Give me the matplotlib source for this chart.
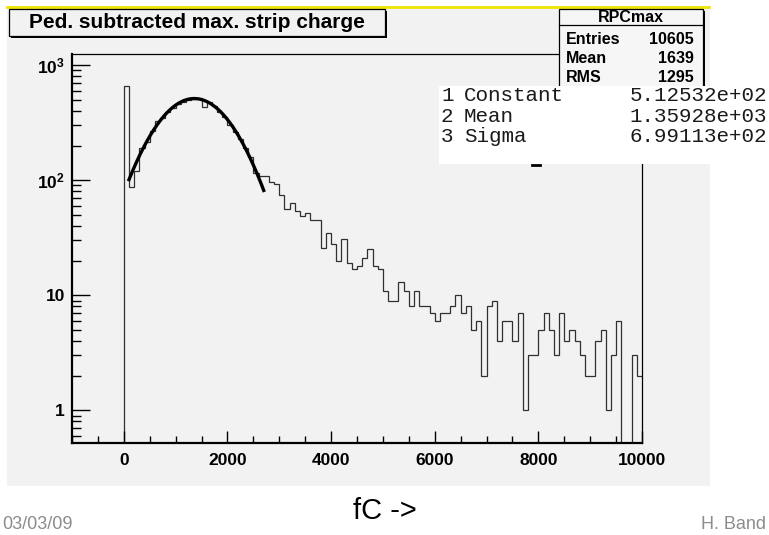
import numpy as np
import matplotlib
matplotlib.use('Agg')
from matplotlib import pyplot as plt
from matplotlib.patches import Rectangle
from matplotlib.lines import Line2D
from matplotlib.ticker import FixedLocator, MultipleLocator, LogLocator, NullFormatter

plt.rcParams['font.family'] = ['Liberation Sans', 'DejaVu Sans']
plt.rcParams['mathtext.fontset'] = 'custom'
plt.rcParams['mathtext.bf'] = 'Liberation Sans:bold'
plt.rcParams['mathtext.rm'] = 'Liberation Sans:bold'

# histogram RPCmax: bins of 100 fC, axis from -1000 to 10000
x_min = -1000
x_max = 10000
bin_width = 100
empty_below_zero = [0] * 10
counts = [656, 88, 120, 190, 215, 270, 330, 345, 395, 420,
          455, 480, 500, 505, 520, 430, 475, 440, 395, 355,
          300, 265, 228, 190, 160, 116, 108, 108, 97, 93,
          74, 56, 63, 54, 49, 52, 45, 45, 26, 35,
          28, 20, 31, 19, 17, 18, 21, 25, 18, 17,
          11, 9, 9, 13, 11, 8, 11, 8, 8, 7,
          6, 7, 7, 8, 10, 7, 8, 5, 6, 2,
          8, 9, 4, 6, 6, 4, 7, 1, 3, 3,
          5, 7, 5, 3, 7, 4, 5, 4, 3, 2,
          2, 4, 5, 1, 3, 6, 0, 0, 3, 2]

# gaus fit
fit_const = 512.532
fit_mean = 1359.28
fit_sigma = 699.113
fit_lo, fit_hi = 100, 2700

hist_name = 'RPCmax'
stats_names = ['Entries', 'Mean', 'RMS']
stats_values = ['10605', '1639', '1295']
par_names = ['Constant', 'Mean', 'Sigma']
par_values = ['5.12532e+02', '1.35928e+03', '6.99113e+02']

x_ticks = [0, 2000, 4000, 6000, 8000, 10000]
x_ticklabels = ['0', '2000', '4000', '6000', '8000', '10000']
y_ticks = [1, 10, 100, 1000]
y_ticklabels = ['1', '10', r'$\mathbf{10^{2}}$', r'$\mathbf{10^{3}}$']

W, H = 769, 535
def fx(px):
    return px / W
def fy(py):
    return 1 - py / H

fig = plt.figure(figsize=(7.69, 5.35), dpi=100)
fig.patch.set_facecolor('white')
gray = '#f2f2f2'

# canvas background + yellow slide line
fig.patches.append(Rectangle((fx(7), fy(486)), (710 - 7) / W, (486 - 8) / H,
                             transform=fig.transFigure, facecolor=gray,
                             edgecolor='none', zorder=-5))
fig.lines.append(Line2D([fx(7), fx(709)], [fy(7), fy(7)], transform=fig.transFigure,
                        color='#f0e400', lw=2, zorder=-4))

ax = fig.add_axes([fx(72), fy(443), (642 - 72) / W, (443 - 54) / H])
ax.set_facecolor(gray)

all_counts = np.array(empty_below_zero + counts, dtype=float)
edges = x_min + bin_width * np.arange(len(all_counts) + 1)
ax.stairs(np.where(all_counts > 0, all_counts, 1e-3), edges, baseline=None,
          color='#303030', lw=0.9)

xs = np.linspace(fit_lo, fit_hi, 400)
ax.plot(xs, fit_const * np.exp(-0.5 * ((xs - fit_mean) / fit_sigma) ** 2),
        color='black', lw=2.4)

ax.set_yscale('log')
ax.set_xlim(x_min, x_max)
ax.set_ylim(0.52, 1250)

ax.xaxis.set_major_locator(FixedLocator(x_ticks))
ax.xaxis.set_minor_locator(MultipleLocator(500))
ax.set_xticklabels(x_ticklabels, fontweight='bold', fontsize=12.5)
ax.yaxis.set_major_locator(FixedLocator(y_ticks))
ax.yaxis.set_minor_locator(LogLocator(base=10, subs=np.arange(2, 10), numticks=20))
ax.yaxis.set_minor_formatter(NullFormatter())
ax.set_yticklabels(y_ticklabels, fontweight='bold', fontsize=12.5)

ax.tick_params(which='both', direction='in', top=False, right=False, width=1, color='black')
ax.tick_params(axis='x', which='major', length=8.4, pad=7)
ax.tick_params(axis='x', which='minor', length=4.8)
ax.tick_params(axis='y', which='major', length=12.7, pad=5)
ax.tick_params(axis='y', which='minor', length=6.3)
for s in ['left', 'bottom']:
    ax.spines[s].set_linewidth(1.6)
for s in ['top', 'right']:
    ax.spines[s].set_linewidth(0.9)

# title box
fig.patches.append(Rectangle((fx(11), fy(38)), 376 / W, 27 / H, transform=fig.transFigure,
                             facecolor='black', edgecolor='none', zorder=2))
fig.patches.append(Rectangle((fx(9), fy(36)), 376 / W, 27 / H, transform=fig.transFigure,
                             facecolor=gray, edgecolor='black', lw=0.9, zorder=2.1))
fig.text(fx(197), fy(23), 'Ped. subtracted max. strip charge', ha='center', va='center',
         fontsize=15, fontweight='bold', zorder=3)

# stats box
fig.patches.append(Rectangle((fx(561), fy(100)), 144 / W, 89 / H, transform=fig.transFigure,
                             facecolor='black', edgecolor='none', zorder=2))
fig.patches.append(Rectangle((fx(559), fy(98)), 144 / W, 89 / H, transform=fig.transFigure,
                             facecolor='#f6f6f6', edgecolor='black', lw=0.9, zorder=2.1))
fig.lines.append(Line2D([fx(559), fx(703)], [fy(25), fy(25)], transform=fig.transFigure,
                        color='black', lw=0.9, zorder=2.2))
fig.text(fx(631), fy(17.5), hist_name, ha='center', va='center', fontsize=11.5,
         fontweight='bold', zorder=3)
for i, (n, v) in enumerate(zip(stats_names, stats_values)):
    y = 39 + 19.3 * i
    fig.text(fx(566), fy(y), n, ha='left', va='center', fontsize=11.5,
             fontweight='bold', zorder=3)
    fig.text(fx(694), fy(y), v, ha='right', va='center', fontsize=11.5,
             fontweight='bold', zorder=3)

# fit parameter box
fig.patches.append(Rectangle((fx(439), fy(164)), (W - 439) / W, 78 / H,
                             transform=fig.transFigure, facecolor='white',
                             edgecolor='none', zorder=4))
for i, (n, v) in enumerate(zip(par_names, par_values)):
    y = 96 + 20.5 * i
    fig.text(fx(441), fy(y), str(i + 1), ha='left', va='center', fontsize=15,
             family='Liberation Mono', color='#1a1a1a', zorder=5)
    fig.text(fx(464), fy(y), n, ha='left', va='center', fontsize=15,
             family='Liberation Mono', color='#1a1a1a', zorder=5)
    fig.text(fx(767), fy(y), v, ha='right', va='center', fontsize=15,
             family='Liberation Mono', color='#1a1a1a', zorder=5)
fig.lines.append(Line2D([fx(532), fx(540)], [fy(165), fy(165)], transform=fig.transFigure,
                        color='black', lw=2, zorder=5))

# slide footer
fig.text(fx(385), fy(511), 'fC ->', ha='center', va='center', fontsize=21, zorder=3)
fig.text(fx(2), fy(533), '03/03/09', ha='left', va='bottom', fontsize=13,
         color='#8c8c8c', zorder=3)
fig.text(fx(766), fy(533), 'H. Band', ha='right', va='bottom', fontsize=13,
         color='#8c8c8c', zorder=3)

fig.savefig('out.png', dpi=100)
